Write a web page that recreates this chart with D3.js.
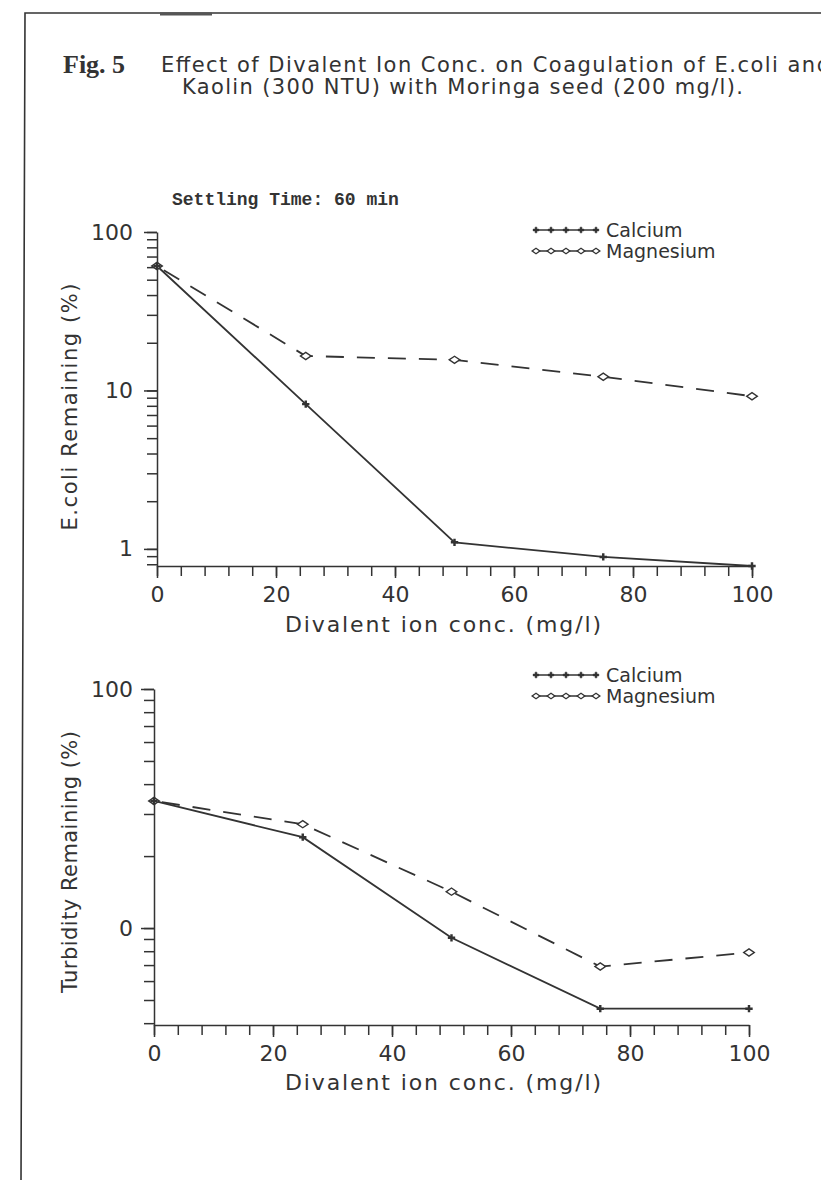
<!DOCTYPE html>
<html>
<head>
<meta charset="utf-8">
<script src="https://cdn.jsdelivr.net/npm/d3@7"></script>
<style>
body { margin: 0; background: #fff; }
svg text { font-family: 'DejaVu Sans', sans-serif; fill: #333; }
</style>
</head>
<body>
<script>
// Chart data
var conc = [0, 25, 50, 75, 100];
var ecoliCalcium = [61, 8.2, 1.1, 0.89, 0.78];
var ecoliMagnesium = [61, 16.5, 15.6, 12.2, 9.2];
var turbCalcium = [34, 24, 9.1, 4.6, 4.6];
var turbMagnesium = [34, 27.2, 14.2, 6.9, 7.9];
var seriesNames = ['Calcium', 'Magnesium'];
var xTickValues = [0, 20, 40, 60, 80, 100];
var xTickLabels = ['0', '20', '40', '60', '80', '100'];
var ecoliTickValues = [1, 10, 100];
var ecoliTickLabels = ['1', '10', '100'];
var turbTickValues = [10, 100];
var turbTickLabels = ['0', '100'];

var ink = '#333';

// Page
var svg = d3.select('body')
    .append('svg')
    .attr('width', 821)
    .attr('height', 1180);

svg.append('rect')
    .attr('width', 821)
    .attr('height', 1180)
    .attr('fill', '#fff');

// Frame of the scanned page
svg.append('path')
    .attr('d', 'M21,1180 L25,13 L821,13')
    .attr('fill', 'none')
    .attr('stroke', ink)
    .attr('stroke-width', 1.6);
svg.append('line')
    .attr('x1', 160).attr('x2', 212)
    .attr('y1', 14).attr('y2', 14)
    .attr('stroke', '#555')
    .attr('stroke-width', 3);

// Title
svg.append('text')
    .attr('x', 63)
    .attr('y', 73)
    .style('font-family', "'Liberation Serif', serif")
    .style('font-weight', 'bold')
    .style('font-size', '26px')
    .text('Fig. 5');
svg.append('text')
    .attr('x', 161)
    .attr('y', 72)
    .attr('textLength', 669)
    .attr('lengthAdjust', 'spacing')
    .style('font-size', '21px')
    .text('Effect of Divalent Ion Conc. on Coagulation of E.coli and');
svg.append('text')
    .attr('x', 182)
    .attr('y', 94)
    .attr('textLength', 561)
    .attr('lengthAdjust', 'spacing')
    .style('font-size', '21px')
    .text('Kaolin (300 NTU) with Moringa seed (200 mg/l).');

// Settling time note
svg.append('text')
    .attr('x', 172)
    .attr('y', 205)
    .style('font-family', "'Liberation Mono', monospace")
    .style('font-weight', 'bold')
    .style('font-size', '18px')
    .text('Settling Time: 60 min');

// Panel settings
var panels = [
    {
        xRange: [157, 752], yRange: [566, 232], yDomain: [0.78, 100],
        yTicks: ecoliTickValues, yLabels: ecoliTickLabels,
        calcium: ecoliCalcium, magnesium: ecoliMagnesium,
        yTitle: 'E.coli Remaining (%)', yTitleY: 407, yTitleLen: 247,
        legendY: [230, 251], xTitleY: 632
    },
    {
        xRange: [154, 749], yRange: [1025, 689], yDomain: [3.93, 100],
        yTicks: turbTickValues, yLabels: turbTickLabels,
        calcium: turbCalcium, magnesium: turbMagnesium,
        yTitle: 'Turbidity Remaining (%)', yTitleY: 862, yTitleLen: 262,
        legendY: [675, 696], xTitleY: 1090
    }
];

var crossPath = d3.symbol().type(d3.symbolCross).size(30)();
var diamondPath = d3.symbol().type(d3.symbolSquare).size(36)();
var smallCross = d3.symbol().type(d3.symbolCross).size(18)();
var smallDiamond = d3.symbol().type(d3.symbolSquare).size(18)();

function styleAxis(g) {
    g.attr('font-family', null).attr('font-size', null);
    g.selectAll('path, line').attr('stroke', ink).attr('stroke-width', 1.5);
    g.selectAll('text').style('font-size', '22px').attr('fill', ink);
}

function drawPanel(p) {
    var x = d3.scaleLinear().domain([0, 100]).range(p.xRange);
    var y = d3.scaleLog().domain(p.yDomain).range(p.yRange);
    var x0 = p.xRange[0], y0 = p.yRange[0];

    // X axis: minor ticks every 4, labels every 20
    var xMinor = svg.append('g')
        .attr('transform', 'translate(0,' + y0 + ')')
        .call(d3.axisBottom(x).tickValues(d3.range(0, 101, 4)).tickSize(10).tickSizeOuter(0).tickFormat(''));
    styleAxis(xMinor);
    var xMajor = svg.append('g')
        .attr('transform', 'translate(0,' + y0 + ')')
        .call(d3.axisBottom(x).tickValues(xTickValues).tickSize(12).tickSizeOuter(0)
            .tickFormat(function(d, i) { return xTickLabels[i]; }));
    styleAxis(xMajor);
    xMajor.select('.domain').remove();
    xMajor.selectAll('text').attr('y', 36).attr('dy', null);

    // Y axis: log ticks, labels at decades
    var yMinor = svg.append('g')
        .attr('transform', 'translate(' + x0 + ',0)')
        .call(d3.axisLeft(y).tickValues(y.ticks()).tickSize(10).tickSizeOuter(0).tickFormat(''));
    styleAxis(yMinor);
    var yMajor = svg.append('g')
        .attr('transform', 'translate(' + x0 + ',0)')
        .call(d3.axisLeft(y).tickValues(p.yTicks).tickSize(13).tickSizeOuter(0)
            .tickFormat(function(d, i) { return p.yLabels[i]; }));
    styleAxis(yMajor);
    yMajor.select('.domain').remove();
    yMajor.selectAll('text').attr('x', -(x0 - 133));

    // Axis titles
    svg.append('text')
        .attr('x', 443)
        .attr('y', p.xTitleY)
        .attr('text-anchor', 'middle')
        .attr('textLength', 316)
        .attr('lengthAdjust', 'spacing')
        .style('font-size', '22px')
        .text('Divalent ion conc. (mg/l)');
    svg.append('text')
        .attr('transform', 'translate(77,' + p.yTitleY + ') rotate(-90)')
        .attr('text-anchor', 'middle')
        .attr('textLength', p.yTitleLen)
        .attr('lengthAdjust', 'spacing')
        .style('font-size', '21px')
        .text(p.yTitle);

    // Lines
    var line = d3.line()
        .x(function(d) { return x(d[0]); })
        .y(function(d) { return y(d[1]); });
    var caData = d3.zip(conc, p.calcium);
    var mgData = d3.zip(conc, p.magnesium);

    svg.append('path')
        .attr('d', line(mgData))
        .attr('fill', 'none')
        .attr('stroke', ink)
        .attr('stroke-width', 1.8)
        .attr('stroke-dasharray', '18,13')
        .attr('stroke-dashoffset', -8);
    svg.append('path')
        .attr('d', line(caData))
        .attr('fill', 'none')
        .attr('stroke', ink)
        .attr('stroke-width', 1.8);

    // Markers
    svg.selectAll(null)
        .data(mgData)
        .enter().append('path')
        .attr('d', diamondPath)
        .attr('transform', function(d) {
            return 'translate(' + x(d[0]) + ',' + y(d[1]) + ') scale(1.25,0.85) rotate(45)';
        })
        .attr('fill', '#fff')
        .attr('stroke', ink)
        .attr('stroke-width', 1.4);
    svg.selectAll(null)
        .data(caData)
        .enter().append('path')
        .attr('d', crossPath)
        .attr('transform', function(d) { return 'translate(' + x(d[0]) + ',' + y(d[1]) + ')'; })
        .attr('fill', ink);

    // Legend
    var legendX = d3.range(5).map(function(i) { return 536 + i * 15; });
    seriesNames.forEach(function(name, k) {
        var ly = p.legendY[k];
        svg.append('line')
            .attr('x1', 533).attr('x2', 598)
            .attr('y1', ly).attr('y2', ly)
            .attr('stroke', ink)
            .attr('stroke-width', 1.6);
        svg.selectAll(null)
            .data(legendX)
            .enter().append('path')
            .attr('d', k === 0 ? smallCross : smallDiamond)
            .attr('transform', function(d) {
                return 'translate(' + d + ',' + ly + ')' + (k === 0 ? '' : ' scale(1.3,0.9) rotate(45)');
            })
            .attr('fill', k === 0 ? ink : '#fff')
            .attr('stroke', ink)
            .attr('stroke-width', k === 0 ? 0.5 : 1.2);
        svg.append('text')
            .attr('x', 606)
            .attr('y', ly + 7)
            .style('font-size', '19px')
            .text(name);
    });
}

panels.forEach(drawPanel);
</script>
</body>
</html>
